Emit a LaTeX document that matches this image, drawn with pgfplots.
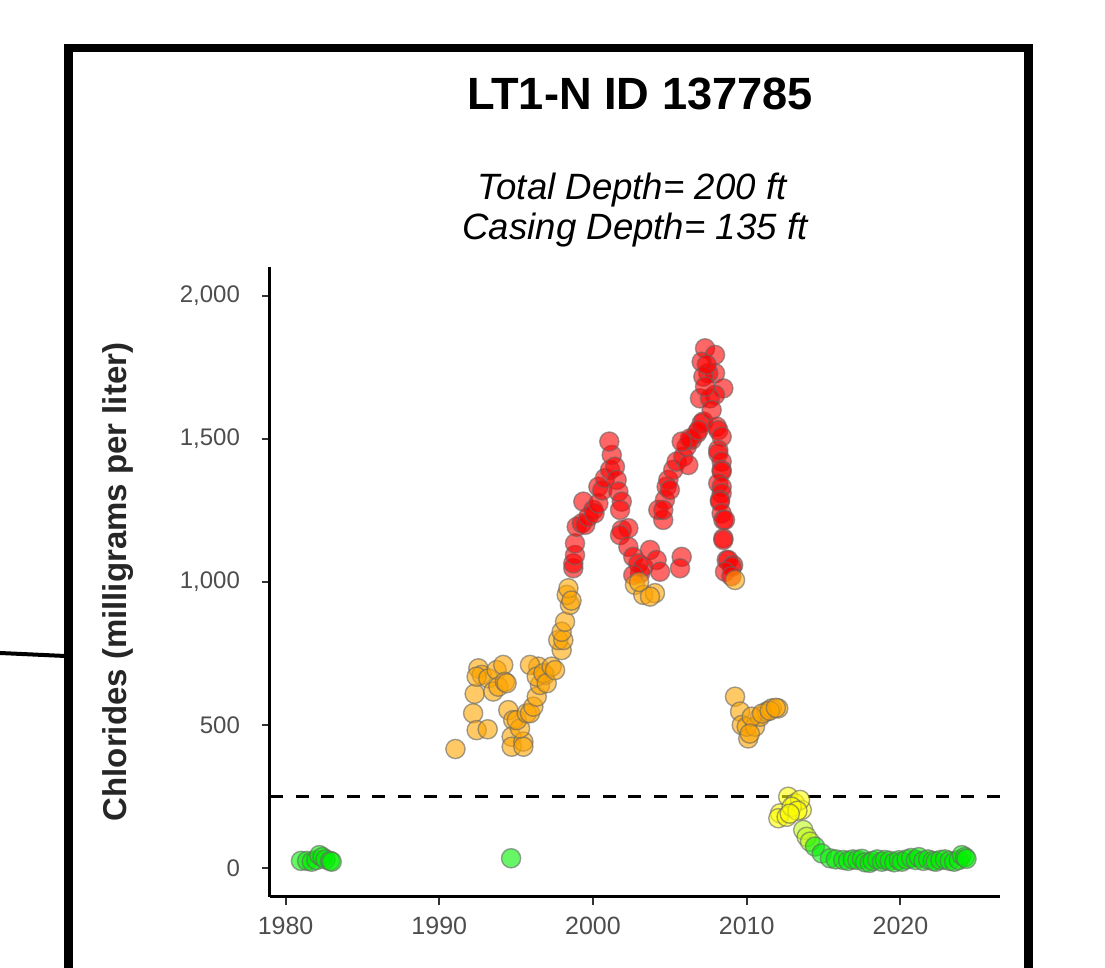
\documentclass[border=0pt]{standalone}
\usepackage{fontspec}
\setmainfont{Liberation Sans}
\usepackage{pgfplots}
\pgfplotsset{compat=1.18}
\definecolor{cgreen}{RGB}{0,240,0}
\definecolor{cyg}{RGB}{190,250,20}
\definecolor{cyellow}{RGB}{255,255,0}
\definecolor{corange}{RGB}{255,165,0}
\definecolor{cred}{RGB}{255,0,0}
\definecolor{tickgray}{RGB}{77,77,77}
\pgfplotsset{
  pt/.style={only marks, mark=*, mark size=4.8pt,
    mark options={fill=#1, fill opacity=0.6, draw=black!60, draw opacity=0.6, line width=0.7pt}}
}
\begin{document}
\begin{tikzpicture}
\path[use as bounding box] (0pt,0pt) rectangle (552.5pt,484pt);
% outer frame and connector
\draw[line width=4.25pt] (34.25pt,-20pt) -- (34.25pt,460pt) -- (514.25pt,460pt) -- (514.25pt,-20pt);
\draw[line width=2pt] (0pt,157.5pt) -- (32.5pt,156pt);
% titles
\node[anchor=base, font=\bfseries\fontsize{22.6}{25}\selectfont] at (320pt,429pt) {LT1-N ID 137785};
\node[anchor=base, font=\itshape\fontsize{18.3}{20}\selectfont] at (316pt,384pt) {Total Depth= 200 ft};
\node[anchor=base, font=\itshape\fontsize{18.3}{20}\selectfont] at (317.5pt,364pt) {Casing Depth= 135 ft};
\begin{axis}[
  at={(135pt,35.7pt)}, anchor=south west, scale only axis,
  width=365pt, height=314.6pt,
  xmin=1978.985, xmax=2026.48, ymin=-100, ymax=2100,
  axis x line*=bottom, axis y line*=left,
  axis line style={line width=1.5pt, black},
  tick align=outside, major tick length=4pt,
  tick style={line width=1pt, color=black!80},
  xtick={1980,1990,2000,2010,2020},
  ytick={0,500,1000,1500,2000},
  /pgf/number format/assume math mode=true,
  xticklabel style={/pgf/number format/1000 sep={}, font=\fontsize{12.5}{13}\selectfont, text=tickgray, yshift=-2.5pt},
  yticklabel style={/pgf/number format/1000 sep={,}, font=\fontsize{12}{13}\selectfont, text=tickgray, xshift=-7.5pt},
  ylabel={Chlorides (milligrams per liter)},
  every axis y label/.style={at={(axis description cs:-0.208,0.5)}, rotate=90, anchor=center,
    font=\bfseries\fontsize{16.5}{18}\selectfont, text=black!85},
  clip=false,
]
% threshold line
\addplot[black, line width=1.75pt, dash pattern=on 6.5pt off 6.3pt, forget plot] coordinates {(1978.985,250) (2026.48,250)};
% green early + 1994
\addplot[pt=cgreen] table {
x y
1981.0 25
1981.4 25
1981.7 22
1982.0 28
1982.2 45
1982.4 38
1982.6 30
1982.9 25
1983.0 22
1994.67 34
};
% orange 1991-1998
\addplot[pt=corange] table {
x y
1991.05 416
1992.2 541
1992.3 609
1992.43 482
1993.15 485
1992.54 698
1992.76 675
1992.43 669
1993.19 663
1993.51 617
1993.73 692
1993.84 634
1994.16 710
1994.27 651
1994.38 646
1994.49 552
1994.81 517
1994.71 459
1994.71 424
1995.47 442
1995.47 424
1995.25 488
1995.04 517
1995.69 541
1995.9 541
1996.12 564
1996.34 599
1996.55 640
1996.88 675
1996.44 704
1995.9 710
1996.34 669
1996.77 681
1996.99 646
1997.31 704
1997.53 692
1997.96 762
1997.74 797
1998.07 797
1997.96 826
1998.18 861
1998.5 920
1998.29 955
1998.4 978
1998.6 935
};
% red first peak
\addplot[pt=cred] table {
x y
1998.72 1048
1998.72 1065
1998.83 1094
1998.83 1135
1998.94 1193
1999.27 1205
1999.37 1281
1999.5 1200
1999.7 1228
2000.02 1252
2000.1 1240
2000.35 1275
2000.35 1333
2000.6 1320
2000.78 1363
2001.11 1392
2001.22 1444
2001.06 1491
2001.43 1403
2001.54 1357
2001.65 1316
2001.87 1281
2001.76 1252
2001.87 1182
2002.3 1188
2001.76 1164
2002.3 1123
2002.62 1088
2002.95 1065
2003.06 1030
2003.27 1053
2003.71 1112
2004.14 1077
2004.36 1036
2002.62 1024
};
% orange 2003
\addplot[pt=corange] table {
x y
2002.73 990
2003.27 955
2004.03 961
2003.71 949
2003.0 1000
};
% red second peak
\addplot[pt=cred] table {
x y
2005.77 1088
2005.66 1048
2004.57 1217
2004.25 1252
2004.68 1287
2004.79 1333
2004.9 1357
2005.22 1392
2005.44 1421
2005.87 1438
2006.09 1473
2006.42 1497
2006.75 1520
2007.07 1555
2006.31 1502
2005.77 1491
2006.2 1409
2005.0 1322
2004.57 1252
2007.18 1561
2006.86 1531
2007.29 1817
2007.94 1794
2007.94 1730
2007.5 1730
2008.48 1677
2007.94 1654
2006.96 1642
2007.61 1642
2007.72 1601
2007.07 1770
2007.18 1718
2007.29 1683
2007.4 1760
2008.05 1543
2008.15 1531
2008.37 1508
2008.15 1462
2008.15 1450
2008.37 1421
2008.37 1392
2008.37 1386
2008.15 1345
2008.37 1333
2008.37 1310
2008.26 1287
2008.26 1281
2008.37 1240
2008.48 1217
2008.59 1217
2008.48 1153
2008.48 1147
2008.7 1077
2008.8 1077
2009.12 1059
2009.03 1053
2008.59 1036
2009.0 1020
};
% orange 2009-2012
\addplot[pt=corange] table {
x y
2009.24 1007
2009.24 599
2009.57 547
2009.68 500
2010.1 453
2010.0 494
2010.54 494
2010.87 529
2011.3 547
2011.63 558
2012.05 558
2010.33 529
2010.2 470
2011.0 540
2011.5 550
2011.9 560
};
% yellow
\addplot[pt=cyellow] table {
x y
2012.7 249
2013.14 226
2013.58 203
2012.17 191
2012.06 174
2012.6 179
2013.47 238
2012.93 214
2013.3 200
2012.8 190
};
\addplot[pt=cyg] table {
x y
2013.68 133
2013.9 109
2014.12 92
};
% green late
\addplot[pt=cgreen] table {
x y
2014.44 75
2014.88 51
2015.42 34
2015.8 30
2016.28 28
2016.6 25
2016.9 30
2017.2 28
2017.5 32
2017.7 20
2018.0 18
2018.2 25
2018.5 30
2018.8 22
2019.0 28
2019.3 25
2019.6 20
2019.9 27
2020.1 22
2020.4 30
2020.7 35
2021.0 28
2021.2 38
2021.5 25
2021.8 30
2022.1 25
2022.3 22
2022.6 28
2022.9 30
2023.2 25
2023.5 22
2023.8 28
2024.0 45
2024.2 38
2024.3 32
};
\end{axis}
\end{tikzpicture}
\end{document}
